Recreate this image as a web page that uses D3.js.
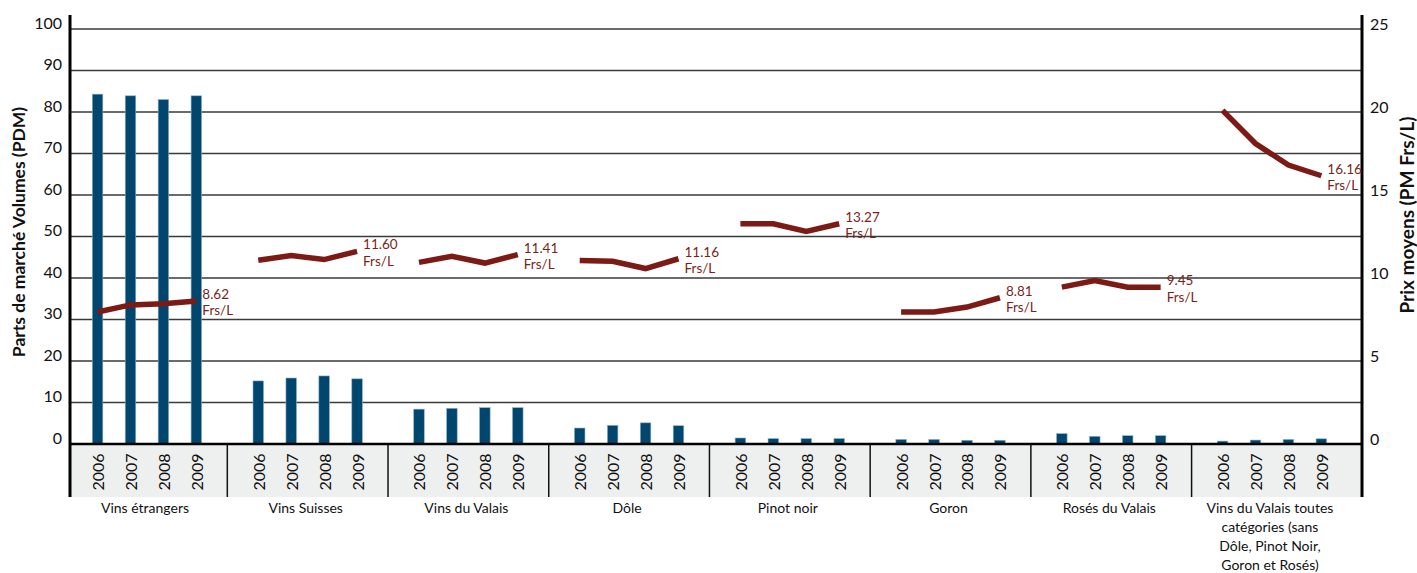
<!DOCTYPE html>
<html>
<head>
<meta charset="utf-8">
<script src="https://d3js.org/d3.v7.min.js"></script>
<style>
  html, body { margin: 0; padding: 0; background: #fff; }
  svg text { font-family: Lato, "Open Sans", sans-serif; }
</style>
</head>
<body>
<svg id="chart" width="1417" height="573"></svg>
<script>
// categories and years
const categories = ['Vins étrangers', 'Vins Suisses', 'Vins du Valais', 'Dôle', 'Pinot noir', 'Goron', 'Rosés du Valais',
  'Vins du Valais toutes|catégories (sans|Dôle, Pinot Noir,|Goron et Rosés)'];
const years = ['2006', '2007', '2008', '2009'];

// market share (PDM, left axis) per category, 2006-2009
const pdm = [
  [84.3, 83.9, 83.0, 83.9],
  [15.2, 15.9, 16.4, 15.7],
  [8.4, 8.6, 8.75, 8.75],
  [3.85, 4.5, 5.1, 4.4],
  [1.45, 1.3, 1.3, 1.3],
  [1.1, 1.1, 0.9, 0.9],
  [2.5, 1.85, 2.0, 2.0],
  [0.7, 0.95, 1.1, 1.25]
];

// average price (PM Frs/L, right axis)
const prix = [
  [7.95, 8.38, 8.45, 8.62],
  [11.07, 11.35, 11.11, 11.60],
  [10.94, 11.31, 10.90, 11.41],
  [11.05, 11.01, 10.57, 11.16],
  [13.27, 13.27, 12.81, 13.27],
  [7.95, 7.95, 8.25, 8.81],
  [9.45, 9.85, 9.45, 9.45],
  [20.1, 18.1, 16.8, 16.16]
];
const prixLabels = ['8.62', '11.60', '11.41', '11.16', '13.27', '8.81', '9.45', '16.16'];

const leftTicks = [0, 10, 20, 30, 40, 50, 60, 70, 80, 90, 100];
const rightTicks = [0, 5, 10, 15, 20, 25];

const svg = d3.select('#chart');
const x0 = 70, x1 = 1362, yTop = 15, yBase = 444, yBand = 497;

const yL = d3.scaleLinear().domain([0, 100]).range([yBase, 29]);
const yR = d3.scaleLinear().domain([0, 25]).range([yBase, 29]);
const xCat = d3.scaleBand().domain(d3.range(categories.length)).range([66.6, 1352.3]);
const xYear = d3.scaleBand().domain(years).range([0, xCat.bandwidth()]).paddingInner(0.68).paddingOuter(0.78);
const cx = (i, j) => xCat(i) + xYear(years[j]) + xYear.bandwidth() / 2;

// grey band under the axis
svg.append('rect').attr('x', x0).attr('y', yBase).attr('width', x1 - x0).attr('height', yBand - yBase)
  .attr('fill', '#eef0ef');

// gridlines
svg.append('g').selectAll('line').data(leftTicks.filter(d => d > 0)).join('line')
  .attr('x1', x0).attr('x2', x1).attr('y1', d => yL(d)).attr('y2', d => yL(d))
  .attr('stroke', '#3a3a3a').attr('stroke-width', 1.4);

// group separators
svg.append('g').selectAll('line').data(d3.range(1, categories.length)).join('line')
  .attr('x1', d => xCat(d)).attr('x2', d => xCat(d)).attr('y1', yBase).attr('y2', yBand)
  .attr('stroke', '#111').attr('stroke-width', 1.5);

// bars
const flat = [];
pdm.forEach((row, i) => row.forEach((v, j) => flat.push({ i, j, v })));
svg.append('g').selectAll('rect').data(flat).join('rect')
  .attr('x', d => xCat(d.i) + xYear(years[d.j]))
  .attr('width', xYear.bandwidth())
  .attr('y', d => yL(d.v))
  .attr('height', d => yBase - yL(d.v))
  .attr('fill', '#00466e')
  .attr('stroke', '#8fb0c4').attr('stroke-width', 0.6);

// axis lines
svg.append('line').attr('x1', x0).attr('x2', x1).attr('y1', yBase).attr('y2', yBase)
  .attr('stroke', '#000').attr('stroke-width', 2.5);
svg.append('line').attr('x1', x0).attr('x2', x0).attr('y1', yTop).attr('y2', yBand)
  .attr('stroke', '#000').attr('stroke-width', 3);
svg.append('line').attr('x1', x1).attr('x2', x1).attr('y1', yTop).attr('y2', yBand)
  .attr('stroke', '#000').attr('stroke-width', 3);

// price lines + labels
const line = d3.line().x(d => d.x).y(d => d.y);
prix.forEach((row, i) => {
  const pts = row.map((v, j) => ({ x: cx(i, j), y: yR(v) }));
  svg.append('path').attr('d', line(pts)).attr('fill', 'none')
    .attr('stroke', '#7c1a16').attr('stroke-width', 5.5);
  const last = pts[pts.length - 1];
  const t = svg.append('text').attr('x', last.x + 6).attr('y', last.y - 7)
    .attr('fill', '#7c1f1b').attr('font-size', 13.5).attr('dominant-baseline', 'central');
  t.append('tspan').attr('x', last.x + 6).text(prixLabels[i]);
  t.append('tspan').attr('x', last.x + 6).attr('dy', 16.5).text('Frs/L');
});

// tick labels
svg.append('g').selectAll('text').data(leftTicks).join('text')
  .attr('x', 62).attr('y', d => yL(d) - 7).attr('text-anchor', 'end').attr('dominant-baseline', 'central')
  .attr('font-size', 16).attr('fill', '#111').text(d => d);
svg.append('g').selectAll('text').data(rightTicks).join('text')
  .attr('x', 1370).attr('y', d => yR(d) - 6).attr('dominant-baseline', 'central')
  .attr('font-size', 16).attr('fill', '#111').text(d => d);

// year labels
const yearLab = [];
categories.forEach((c, i) => years.forEach((y, j) => yearLab.push({ x: cx(i, j), y })));
svg.append('g').selectAll('text').data(yearLab).join('text')
  .attr('transform', d => `translate(${d.x},472) rotate(-90)`)
  .attr('text-anchor', 'middle').attr('dominant-baseline', 'central')
  .attr('font-size', 16).attr('fill', '#111').text(d => d.y);

// category labels
categories.forEach((c, i) => {
  const xc = xCat(i) + xCat.bandwidth() / 2 - 2;
  const t = svg.append('text').attr('x', xc).attr('y', 507).attr('text-anchor', 'middle')
    .attr('dominant-baseline', 'central').attr('font-size', 14).attr('fill', '#111');
  c.split('|').forEach((s, k) => {
    t.append('tspan').attr('x', xc).attr('dy', k === 0 ? 0 : 19).text(s);
  });
});

// axis titles
svg.append('text').attr('transform', 'translate(18,232) rotate(-90)')
  .attr('text-anchor', 'middle').attr('dominant-baseline', 'central')
  .attr('font-size', 17.5).attr('font-weight', 'bold').attr('fill', '#111')
  .text('Parts de marché Volumes (PDM)');
svg.append('text').attr('transform', 'translate(1406,215) rotate(-90)')
  .attr('text-anchor', 'middle').attr('dominant-baseline', 'central')
  .attr('font-size', 19).attr('font-weight', 'bold').attr('fill', '#111')
  .text('Prix moyens (PM Frs/L)');
</script>
</body>
</html>
